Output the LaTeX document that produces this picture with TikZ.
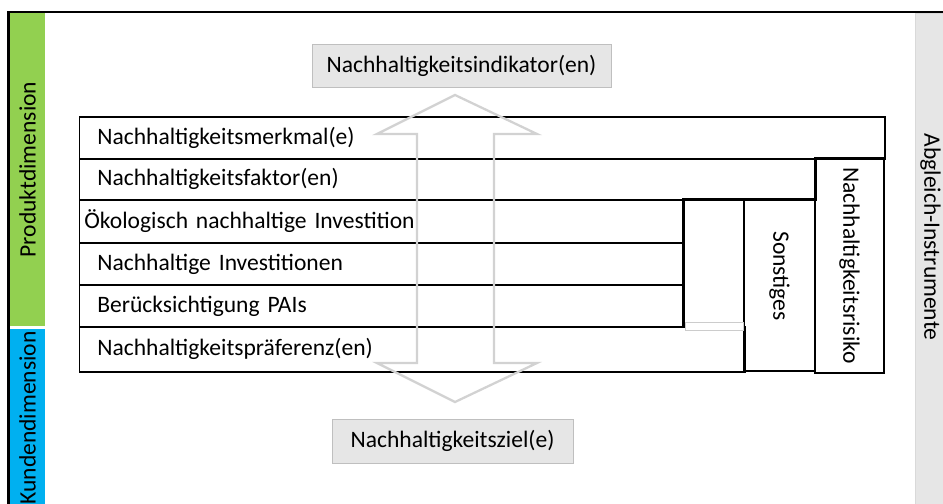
\documentclass[tikz,border=0pt]{standalone}
\usepackage{fontspec}
\setmainfont{Carlito}
\usepackage{xcolor}
\usepackage{tikz}
\usetikzlibrary{positioning}
\definecolor{produktgruen}{RGB}{146,208,80}
\definecolor{kundenblau}{RGB}{0,176,240}
\definecolor{hellgrau}{RGB}{230,230,230}
\definecolor{randgrau}{RGB}{191,191,191}
\newcommand{\schrift}{\fontsize{13.4}{15}\selectfont}

\begin{document}
\begin{tikzpicture}[
    zeile/.style={draw, line width=1pt, anchor=north west, align=left, inner xsep=0.36cm, inner ysep=0pt, font=\schrift},
    spalte/.style={draw, line width=1pt, inner sep=0pt, font=\schrift},
    band/.style={inner sep=0pt, font=\schrift},
    kasten/.style={draw=randgrau, fill=hellgrau, inner sep=0pt, font=\schrift},
    pfeil/.style={draw=gray!35, line width=1.3pt, line join=miter},
]
    \useasboundingbox (0,0) rectangle (18.86,-10.08);
    % Dimensionen links, Instrumente rechts
    \node[band, fill=produktgruen, rotate=90, minimum width=6.26cm, minimum height=0.7cm] (produkt) at (0.55,-3.39) {Produktdimension};
    \node[band, fill=kundenblau, rotate=90, minimum width=3.56cm, minimum height=0.7cm] (kunde) at (0.55,-8.36) {Kundendimension};
    \node[band, fill=hellgrau, draw=gray!30, rotate=-90, minimum width=9.82cm, minimum height=0.56cm] (abgleich) at (18.58,-5.17)
        {\raisebox{0.03cm}[\height][\depth]{Abgleich-Instrumente}\hspace*{0.86cm}};
    \draw[line width=1.2pt] (0.17,-10.08) -- (0.17,-0.24) -- (18.86,-0.24);
    % Zeilen der Tabelle
    \node[zeile, text width=15.39cm, minimum height=0.84cm] (merkmal) at (1.57,-2.32) {Nachhaltigkeitsmerkmal(e)};
    \node[zeile, text width=14.01cm, minimum height=0.82cm] (faktor) at (1.57,-3.16) {Nachhaltigkeitsfaktor(en)};
    \node[zeile, text width=11.89cm, inner xsep=0.1cm, minimum height=0.86cm] (oeko) at (1.57,-3.98) {Ökologisch nachhaltige Investition};
    \node[zeile, text width=11.37cm, minimum height=0.84cm] (invest) at (1.57,-4.84) {Nachhaltige Investitionen};
    \node[zeile, text width=11.37cm, minimum height=0.84cm] (pai) at (1.57,-5.68) {Berücksichtigung PAIs};
    \node[zeile, text width=12.59cm, minimum height=0.90cm] (praef) at (1.57,-6.52) {Nachhaltigkeitspräferenz(en)};
    % Spalten rechts
    \node[spalte, minimum width=1.22cm, minimum height=2.54cm] (leer) at (14.27,-5.25) {};
    \node[spalte, rotate=-90, minimum width=3.44cm, minimum height=1.42cm] (sonst) at (15.59,-5.70) {Sonstiges\hspace*{0.36cm}};
    \node[spalte, rotate=-90, minimum width=4.30cm, minimum height=1.38cm] (risiko) at (16.99,-5.31) {Nachhaltigkeitsrisiko};
    \node[draw=gray!40, fill=white, inner sep=0pt, minimum width=1.16cm, minimum height=0.16cm] (rest) at (14.28,-6.52) {};
    % Indikator und Ziel
    \node[kasten, minimum width=5.98cm, minimum height=0.86cm] (indikator) at (9.23,-1.31) {Nachhaltigkeitsindikator(en)};
    \node[kasten, minimum width=4.82cm, minimum height=0.88cm] (ziel) at (9.05,-8.82) {Nachhaltigkeitsziel(e)};
    % Doppelpfeil
    \draw[pfeil] (9.10,-1.90) -- (10.74,-2.68) -- (9.88,-2.68) -- (9.88,-7.26) -- (10.74,-7.26)
        -- (9.10,-8.04) -- (7.54,-7.26) -- (8.34,-7.26) -- (8.34,-2.68) -- (7.54,-2.68) -- cycle;
\end{tikzpicture}
\end{document}
